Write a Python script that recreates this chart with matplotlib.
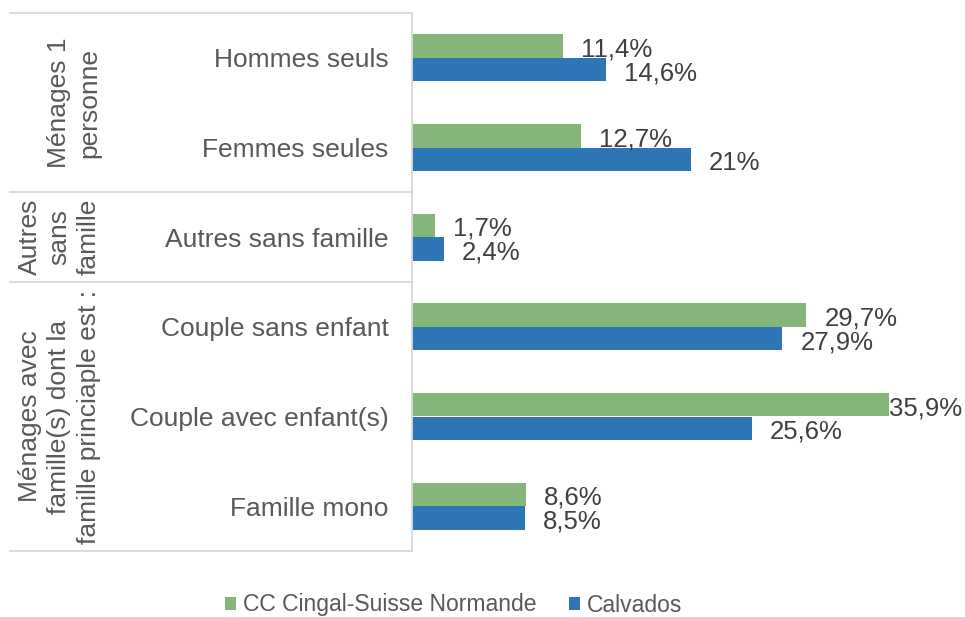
import matplotlib
matplotlib.use("Agg")
import matplotlib.pyplot as plt
import matplotlib.transforms as mtransforms
import numpy as np

plt.rcParams['font.family'] = ['Liberation Sans', 'DejaVu Sans']

categories = ["Hommes seuls", "Femmes seules", "Autres sans famille",
              "Couple sans enfant", "Couple avec enfant(s)", "Famille mono"]
cc_values = [11.4, 12.7, 1.7, 29.7, 35.9, 8.6]
calvados_values = [14.6, 21, 2.4, 27.9, 25.6, 8.5]
series_names = ["CC Cingal-Suisse Normande", "Calvados"]
group_labels = ["Ménages 1\npersonne", "Autres\nsans\nfamille",
                "Ménages avec\nfamille(s) dont la\nfamille princiaple est :"]
group_spans = [(0, 1), (2, 2), (3, 5)]

GREEN = "#86B57A"
BLUE = "#2E75B6"
TXT = "#595959"
LBL = "#404040"
LINE = "#D9D9D9"

W, H = 965, 617
fig = plt.figure(figsize=(W / 100, H / 100), dpi=100)
ax_left, ax_right, ax_top, ax_bot = 412, 943, 13, 551
ax = fig.add_axes([ax_left / W, 1 - ax_bot / H, (ax_right - ax_left) / W, (ax_bot - ax_top) / H])

y = np.arange(len(categories))
h = 0.262
ax.barh(y - h / 2, cc_values, height=h, color=GREEN, label=series_names[0])
ax.barh(y + h / 2, calvados_values, height=h, color=BLUE, label=series_names[1])

ax.set_xlim(0, 40)
ax.set_ylim(len(categories) - 0.5, -0.5)
ax.set_yticks(y)
ax.set_yticklabels(categories, fontsize=19, color=TXT)
ax.tick_params(axis='y', length=0, pad=17)
ax.set_xticks([])
for s in ['top', 'right', 'bottom']:
    ax.spines[s].set_visible(False)
ax.spines['left'].set_color(LINE)
ax.spines['left'].set_linewidth(1.3)


def fmt(v):
    return f"{v:g}".replace('.', ',') + '%'


texts = []
for vals, off in [(cc_values, -h / 2), (calvados_values, h / 2)]:
    for i, v in enumerate(vals):
        t = ax.annotate(fmt(v), xy=(v, i + off), xytext=(13, -2.5),
                        textcoords='offset points', ha='left', va='center',
                        fontsize=18.5, color=LBL, annotation_clip=False)
        texts.append(t)

# table lines in the category area
trans = mtransforms.blended_transform_factory(ax.transAxes, ax.transData)
x0 = (10 - ax_left) / (ax_right - ax_left)
bounds = [-0.5] + [e + 0.5 for (_, e) in group_spans]
for b in bounds:
    ax.plot([x0, 0], [b, b], color=LINE, lw=1.3, transform=trans, clip_on=False)

# group labels (rotated)
xg = (101 - ax_left) / (ax_right - ax_left)
for lab, (s, e) in zip(group_labels, group_spans):
    ax.text(xg, (s + e) / 2, lab, rotation=90, ha='right', va='center',
            multialignment='center', fontsize=19, color=TXT,
            transform=trans, linespacing=1.3)

leg = fig.legend(loc='center', bbox_to_anchor=(453.5 / W, 1 - 605 / H), ncol=2,
                 frameon=False, fontsize=16.5, handlelength=0.5, handleheight=0.5,
                 handletextpad=0.3, columnspacing=1.4, labelcolor=TXT)

# keep data labels inside the figure (as the original rendering does)
fig.canvas.draw()
r = fig.canvas.get_renderer()
for t in texts:
    bb = t.get_window_extent(r)
    if bb.x1 > W - 3:
        shift_pt = (bb.x1 - (W - 3)) * 72 / 100
        xt, yt = t.xyann
        t.xyann = (xt - shift_pt, yt)

fig.savefig("out.png", dpi=100)
